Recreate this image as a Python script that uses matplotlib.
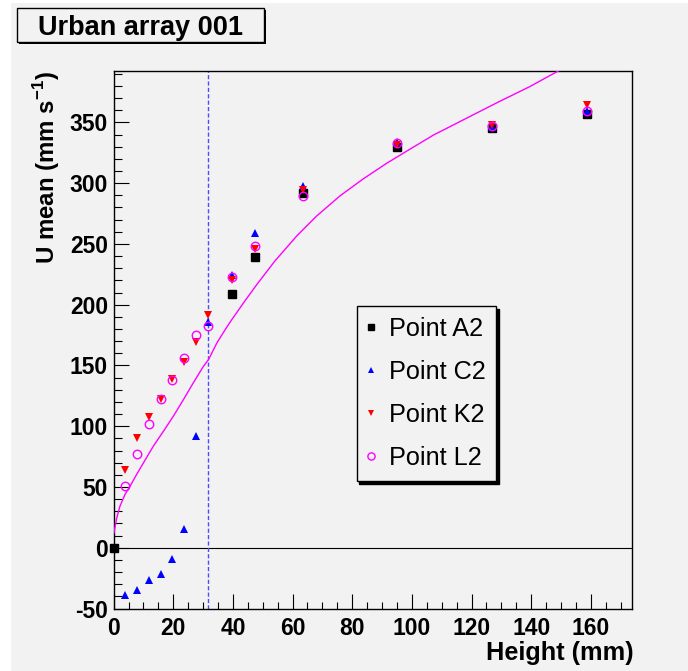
import matplotlib
matplotlib.use("Agg")
import matplotlib.pyplot as plt
from matplotlib.patches import Rectangle
from matplotlib.ticker import MultipleLocator

plt.rcParams["font.family"] = ["Liberation Sans", "DejaVu Sans"]
plt.rcParams["mathtext.fontset"] = "custom"
plt.rcParams["mathtext.rm"] = "Liberation Sans"
plt.rcParams["mathtext.bf"] = "Liberation Sans:bold"
plt.rcParams["axes.unicode_minus"] = False

# Measurement heights (mm)
heights = [3.9, 7.9, 11.9, 15.8, 19.7, 23.7, 27.7, 31.6, 39.6, 47.5, 63.4, 95.1, 126.9, 158.7]

# Mean streamwise velocity (mm/s) at each measuring point
heights_a2 = [0.0, 39.6, 47.5, 63.4, 95.1, 126.9, 158.7]
u_a2 = [0.0, 209.0, 239.4, 291.8, 329.6, 345.2, 357.0]
u_c2 = [-39.3, -34.9, -26.7, -21.8, -9.1, 15.5, 91.7, 185.7, 224.0, 258.9, 298.0, 334.2, 346.5, 359.5]
u_k2 = [64.3, 90.4, 107.3, 122.7, 138.9, 152.8, 169.5, 191.7, 220.5, 245.7, 294.0, 331.5, 347.9, 364.4]
u_l2 = [50.6, 76.9, 102.1, 122.7, 138.0, 156.1, 175.0, 182.4, 222.7, 247.9, 289.0, 332.9, 347.1, 359.0]

# Reference profile
profile_z = [0.1, 1.0, 2.1, 3.8, 5.5, 7.7, 10.0, 13.3, 16.7, 20.0, 23.4, 26.7, 30.1, 31.8,
             34.6, 37.4, 39.6, 44.0, 48.0, 54.1, 61.4, 68.1, 75.9, 83.7, 91.6, 99.4,
             107.2, 117.2, 128.4, 139.6, 149.1, 152.0]
profile_u = [12.0, 24.0, 34.0, 43.7, 50.6, 60.2, 69.8, 83.5, 95.8, 108.1, 121.8, 135.6, 149.2, 154.7,
             168.4, 179.4, 187.6, 203.0, 216.5, 236.0, 256.5, 273.0, 289.5, 303.5, 316.4, 328.0,
             339.5, 352.0, 366.0, 379.5, 392.3, 396.0]

canopy_height = 31.6
x_limits = (0, 173.8)
y_limits = (-50, 392.5)

W, H = 688, 671
BG = "#f2f2f2"
fig = plt.figure(figsize=(W / 100, H / 100), dpi=100)
fig.patch.set_facecolor("white")
fig.add_artist(Rectangle((11 / W, 0), 1 - 11 / W, 1 - 3 / H, transform=fig.transFigure,
                         facecolor=BG, edgecolor="none", zorder=-10))

left, right, top, bottom = 113.6, 632.0, 70.7, 608.5
ax = fig.add_axes([left / W, 1 - bottom / H, (right - left) / W, (bottom - top) / H])
ax.set_facecolor(BG)
ax.set_xlim(*x_limits)
ax.set_ylim(*y_limits)

for s in ["left", "bottom", "right", "top"]:
    ax.spines[s].set_linewidth(1.0)
    ax.spines[s].set_color("black")

ax.xaxis.set_major_locator(MultipleLocator(20))
ax.xaxis.set_minor_locator(MultipleLocator(5))
ax.yaxis.set_major_locator(MultipleLocator(50))
ax.yaxis.set_minor_locator(MultipleLocator(10))
ax.tick_params(which="both", direction="in", top=False, right=False, width=0.8, color="black")
ax.tick_params(which="major", length=10.8)
ax.tick_params(which="minor", length=5.4)
ax.tick_params(axis="x", which="major", pad=6, labelsize=16.5)
ax.tick_params(axis="y", which="major", pad=4, labelsize=16.5)
for lab in ax.get_xticklabels() + ax.get_yticklabels():
    lab.set_fontweight("bold")

# zero line and canopy height
ax.axhline(0, color="black", lw=0.8, zorder=2)
ax.axvline(canopy_height, color="#4d4dff", lw=1.0, ls=(0, (3, 1.6)), zorder=2)

# reference profile
ax.plot(profile_z, profile_u, color="#ff00ff", lw=1.0, zorder=3)

ms = 5.3
h_a2, = ax.plot(heights_a2, u_a2, ls="none", marker="s", ms=ms, color="black", clip_on=False,
                zorder=4, label="Point A2")
h_c2, = ax.plot(heights, u_c2, ls="none", marker="^", ms=ms + 0.5, color="#0000ff", mew=0,
                clip_on=False, zorder=5, label="Point C2")
h_k2, = ax.plot(heights, u_k2, ls="none", marker="v", ms=ms + 0.5, color="#ff0000", mew=0,
                clip_on=False, zorder=6, label="Point K2")
h_l2, = ax.plot(heights, u_l2, ls="none", marker="o", ms=ms + 0.8, mfc="none", mec="#ff00ff",
                mew=1.0, clip_on=False, zorder=7, label="Point L2")

leg = ax.legend(handles=[h_a2, h_c2, h_k2, h_l2], loc="upper left",
                bbox_to_anchor=(356.7 / W, 1 - 306 / H), bbox_transform=fig.transFigure,
                borderaxespad=0, fontsize=18.2, borderpad=0.42, labelspacing=0.76,
                handlelength=0.29, handletextpad=0.57, fancybox=False, framealpha=1,
                markerscale=0.85, shadow={"color": "black", "alpha": 1})
leg.get_frame().set_edgecolor("black")
leg.get_frame().set_facecolor(BG)
leg.get_frame().set_linewidth(1.0)

ax.set_xlabel("Height (mm)", fontsize=18.2, fontweight="bold", loc="right")
ax.xaxis.set_label_coords(1.004, -0.06)
ax.set_ylabel(r"U mean (mm s$^{\mathbf{-1}}$)", fontsize=17.3, fontweight="bold", loc="top")
ax.yaxis.set_label_coords(-0.099, 1.0)

# title box with shadow
tx0, ty0, tx1, ty1 = 17, 8, 264, 42
fig.add_artist(Rectangle(((tx0 + 2) / W, 1 - (ty1 + 2) / H), (tx1 - tx0) / W, (ty1 - ty0) / H,
                         transform=fig.transFigure, facecolor="black", edgecolor="none", zorder=20))
fig.add_artist(Rectangle((tx0 / W, 1 - ty1 / H), (tx1 - tx0) / W, (ty1 - ty0) / H,
                         transform=fig.transFigure, facecolor=BG, edgecolor="black", lw=1.0, zorder=21))
fig.text((tx0 + tx1) / 2 / W, 1 - (ty0 + ty1) / 2 / H, "Urban array 001", fontsize=19.5,
         fontweight="bold", ha="center", va="center_baseline", zorder=22)

fig.savefig("out.png", dpi=100, facecolor=fig.get_facecolor())
